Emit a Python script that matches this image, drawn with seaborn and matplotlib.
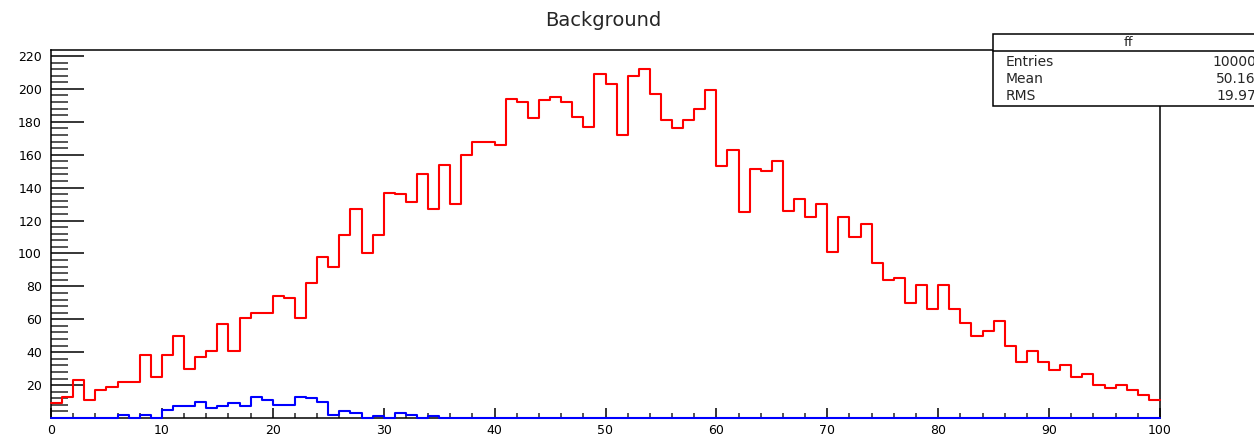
"""
ROOT-style 'Background' histogram redrawn with seaborn step histograms.
"""

import matplotlib
matplotlib.use("Agg")
import matplotlib.pyplot as plt
import numpy as np
import pandas as pd
import seaborn as sns
from matplotlib.lines import Line2D
from matplotlib.patches import Rectangle
from matplotlib.ticker import FixedLocator, MultipleLocator

# --- data (100 unit-width bins from 0 to 100) ---
bin_edges = list(range(0, 101))

red_counts = [
    9, 13, 23, 11, 17, 19, 22, 22, 38, 25,
    38, 50, 30, 37, 41, 57, 41, 61, 64, 64,
    74, 73, 61, 82, 98, 92, 111, 127, 100, 111,
    137, 136, 131, 148, 127, 154, 130, 160, 168, 168,
    166, 194, 192, 182, 193, 195, 192, 183, 177, 209,
    203, 172, 208, 212, 197, 181, 176, 181, 188, 199,
    153, 163, 125, 151, 150, 156, 126, 133, 122, 130,
    101, 122, 110, 118, 94, 84, 85, 70, 81, 66,
    81, 66, 58, 50, 53, 59, 44, 34, 41, 34,
    29, 32, 25, 27, 20, 18, 20, 17, 14, 11,
]

blue_counts = [
    0, 0, 0, 0, 0, 0, 2, 0, 2, 0,
    5, 7, 7, 10, 6, 7, 9, 7, 13, 11,
    8, 8, 13, 12, 10, 2, 4, 3, 0, 1,
    0, 3, 2, 0, 1, 0, 0, 0, 0, 0,
    0, 0, 0, 0, 0, 0, 0, 0, 0, 0,
    0, 0, 0, 0, 0, 0, 0, 0, 0, 0,
    0, 0, 0, 0, 0, 0, 0, 0, 0, 0,
    0, 0, 0, 0, 0, 0, 0, 0, 0, 0,
    0, 0, 0, 0, 0, 0, 0, 0, 0, 0,
    0, 0, 0, 0, 0, 0, 0, 0, 0, 0,
]

x_ticks = [0, 10, 20, 30, 40, 50, 60, 70, 80, 90, 100]
y_ticks = [20, 40, 60, 80, 100, 120, 140, 160, 180, 200, 220]

stats_name = "ff"
stats_labels = ["Entries", "Mean", "RMS"]
stats_values = ["10000", "50.16", "19.97"]

W, H = 1254, 436


def fx(px):
    return px / W


def fy(py):
    return 1 - py / H


def main():
    sns.set_style("ticks")
    plt.rcParams["font.family"] = ["DejaVu Sans"]

    fig = plt.figure(figsize=(W / 100, H / 100), dpi=100)
    ax = fig.add_axes([fx(51), fy(418), fx(1160) - fx(51), fy(50) - fy(418)])

    centers = [(a + b) / 2 for a, b in zip(bin_edges[:-1], bin_edges[1:])]
    df = pd.DataFrame({"x": centers, "red": red_counts, "blue": blue_counts})

    sns.histplot(data=df, x="x", weights="red", bins=bin_edges,
                 element="step", fill=False, color="#ff0000",
                 linewidth=1.5, ax=ax)
    sns.histplot(data=df, x="x", weights="blue", bins=bin_edges,
                 element="step", fill=False, color="#0000ff",
                 linewidth=1.5, ax=ax)
    for line in ax.lines:
        line.set_zorder(3)
        line.set_clip_on(False)

    ax.set_xlim(0, 100)
    ax.set_ylim(0, 223.6)
    ax.set_xlabel("")
    ax.set_ylabel("")

    for side in ["left", "right", "top", "bottom"]:
        ax.spines[side].set_visible(True)
        ax.spines[side].set_linewidth(1.1)
        ax.spines[side].set_color("black")

    ax.xaxis.set_major_locator(FixedLocator(x_ticks))
    ax.xaxis.set_minor_locator(MultipleLocator(2))
    ax.yaxis.set_major_locator(FixedLocator(y_ticks))
    ax.yaxis.set_minor_locator(MultipleLocator(4))

    ax.tick_params(axis="x", which="major", direction="in", length=7.2,
                   width=1.1, labelsize=9, pad=4, colors="black")
    ax.tick_params(axis="x", which="minor", direction="in", length=3.8,
                   width=1.1)
    ax.tick_params(axis="y", which="major", direction="in", length=23.5,
                   width=1.1, labelsize=9, pad=6.5, colors="black")
    ax.tick_params(axis="y", which="minor", direction="in", length=12,
                   width=1.1)
    ax.tick_params(top=False, right=False, which="both")

    fig.text(fx(603), fy(20), "Background", ha="center", va="center",
             fontsize=14)

    # stats box, running off the right edge like the original
    box = Rectangle((fx(993), fy(106)), fx(300), fy(34) - fy(106),
                    transform=fig.transFigure, facecolor="white",
                    edgecolor="black", linewidth=1.1, zorder=5)
    fig.add_artist(box)
    fig.add_artist(Line2D([fx(993), fx(1300)], [fy(51.5), fy(51.5)],
                          transform=fig.transFigure, color="black",
                          linewidth=1.1, zorder=6))
    fig.text(fx(1128), fy(42.5), stats_name, ha="center", va="center",
             fontsize=9.5, zorder=7)
    for i, (lab, val) in enumerate(zip(stats_labels, stats_values)):
        yy = fy(61.5 + 17.3 * i)
        fig.text(fx(1006), yy, lab, ha="left", va="center",
                 fontsize=10, zorder=7)
        fig.text(fx(1256), yy, val, ha="right", va="center",
                 fontsize=10, zorder=7)

    fig.savefig("out.png", dpi=100)
    plt.close(fig)


if __name__ == "__main__":
    main()
